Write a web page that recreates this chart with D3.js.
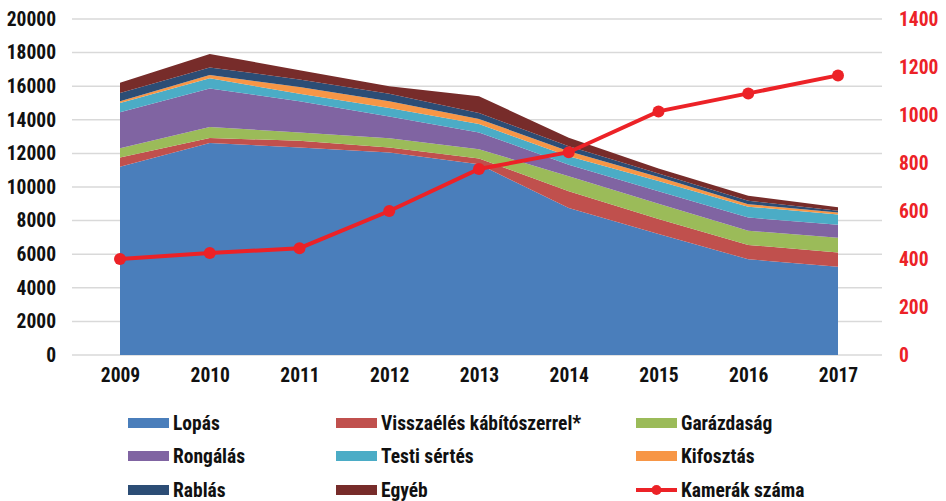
<!DOCTYPE html>
<html>
<head>
<meta charset="utf-8">
<script src="https://cdn.jsdelivr.net/npm/d3@7"></script>
<style>
  body { margin: 0; background: #fff; }
  svg text { font-family: "Liberation Sans Narrow", "Roboto Condensed", "Roboto", sans-serif; font-weight: bold; }
</style>
</head>
<body>
<div id="chart"></div>
<script>
// years and series
var years = [2009, 2010, 2011, 2012, 2013, 2014, 2015, 2016, 2017];
var seriesNames = ["Lopás", "Visszaélés kábítószerrel*", "Garázdaság", "Rongálás", "Testi sértés", "Kifosztás", "Rablás", "Egyéb"];
var lopas       = [11200, 12620, 12350, 12050, 11350, 8750, 7200, 5700, 5250];
var visszaeles  = [550, 300, 400, 300, 350, 1000, 900, 850, 850];
var garazdasag  = [550, 650, 500, 550, 550, 890, 900, 850, 880];
var rongalas    = [2150, 2300, 1850, 1300, 1000, 690, 750, 780, 780];
var testi       = [550, 600, 450, 500, 500, 500, 600, 650, 600];
var kifosztas   = [100, 200, 400, 400, 300, 300, 250, 150, 120];
var rablas      = [500, 450, 450, 450, 350, 300, 200, 200, 100];
var egyeb       = [600, 800, 550, 450, 1000, 500, 300, 300, 220];
var kamerak     = [400, 425, 445, 600, 775, 845, 1015, 1090, 1165];
var leftTicks = [0, 2000, 4000, 6000, 8000, 10000, 12000, 14000, 16000, 18000, 20000];
var rightTicks = [0, 200, 400, 600, 800, 1000, 1200, 1400];

var colors = ["#4a7ebb", "#c0504d", "#9bbb59", "#8064a2", "#4bacc6", "#f79646", "#2c4d75", "#772c2a"];
var lineColor = "#ec2227";

var width = 946, height = 501;
var svg = d3.select("#chart").append("svg")
    .attr("width", width)
    .attr("height", height);

var x = d3.scalePoint().domain(years).range([120, 838]);
var y = d3.scaleLinear().domain([0, 20000]).range([355, 19]);
var y2 = d3.scaleLinear().domain([0, 1400]).range([355, 19]);

// build rows for the stack
var cols = [lopas, visszaeles, garazdasag, rongalas, testi, kifosztas, rablas, egyeb];
var rows = years.map(function(yr, i) {
    var r = {year: yr};
    seriesNames.forEach(function(n, k) { r[n] = cols[k][i]; });
    return r;
});
var stacked = d3.stack().keys(seriesNames)(rows);

// gridlines
svg.append("g")
    .selectAll("line")
    .data(leftTicks)
    .enter().append("line")
    .attr("x1", 72).attr("x2", 882)
    .attr("y1", function(d) { return y(d); })
    .attr("y2", function(d) { return y(d); })
    .attr("stroke", "#d9d9d9")
    .attr("stroke-width", 1.5);

// areas
var area = d3.area()
    .x(function(d) { return x(d.data.year); })
    .y0(function(d) { return y(d[0]); })
    .y1(function(d) { return y(d[1]); });

svg.append("g")
    .selectAll("path")
    .data(stacked)
    .enter().append("path")
    .attr("fill", function(d, i) { return colors[i]; })
    .attr("d", area);

// left axis labels
var yAxis = svg.append("g")
    .attr("transform", "translate(56,0)")
    .call(d3.axisLeft(y).tickValues(leftTicks).tickSize(0).tickPadding(0).tickFormat(d3.format("d")));
yAxis.select(".domain").remove();
yAxis.selectAll("text").attr("font-size", 19.5).attr("fill", "#111");

// right axis labels
var y2Axis = svg.append("g")
    .attr("transform", "translate(899,0)")
    .call(d3.axisRight(y2).tickValues(rightTicks).tickSize(0).tickPadding(0).tickFormat(d3.format("d")));
y2Axis.select(".domain").remove();
y2Axis.selectAll("text").attr("font-size", 19.5).attr("fill", lineColor);

// x axis labels
var xAxis = svg.append("g")
    .attr("transform", "translate(0,368)")
    .call(d3.axisBottom(x).tickSize(0).tickPadding(0));
xAxis.select(".domain").remove();
xAxis.selectAll("text").attr("font-size", 19.5).attr("fill", "#111");

// camera line
svg.append("path")
    .datum(kamerak)
    .attr("fill", "none")
    .attr("stroke", lineColor)
    .attr("stroke-width", 4)
    .attr("d", d3.line()
        .x(function(d, i) { return x(years[i]); })
        .y(function(d) { return y2(d); }));

svg.append("g")
    .selectAll("circle")
    .data(kamerak)
    .enter().append("circle")
    .attr("cx", function(d, i) { return x(years[i]); })
    .attr("cy", function(d) { return y2(d); })
    .attr("r", 6)
    .attr("fill", lineColor);

// legend
var legendItems = seriesNames.concat(["Kamerák száma"]);
var colX = [128, 336, 636];
var rowY = [423, 456, 490];
var legend = svg.append("g");
legendItems.forEach(function(name, idx) {
    var lx = colX[idx % 3], ly = rowY[Math.floor(idx / 3)];
    var g = legend.append("g").attr("transform", "translate(" + lx + "," + ly + ")");
    if (idx < 8) {
        g.append("rect")
            .attr("x", 0).attr("y", -5)
            .attr("width", 41).attr("height", 10)
            .attr("fill", colors[idx]);
    } else {
        g.append("line")
            .attr("x1", 0).attr("x2", 41)
            .attr("stroke", lineColor).attr("stroke-width", 4);
        g.append("circle").attr("cx", 20.5).attr("r", 5).attr("fill", lineColor);
    }
    g.append("text")
        .attr("x", 45)
        .attr("dy", "0.35em")
        .attr("font-size", 19.5)
        .attr("fill", "#111")
        .text(name);
});
</script>
</body>
</html>
